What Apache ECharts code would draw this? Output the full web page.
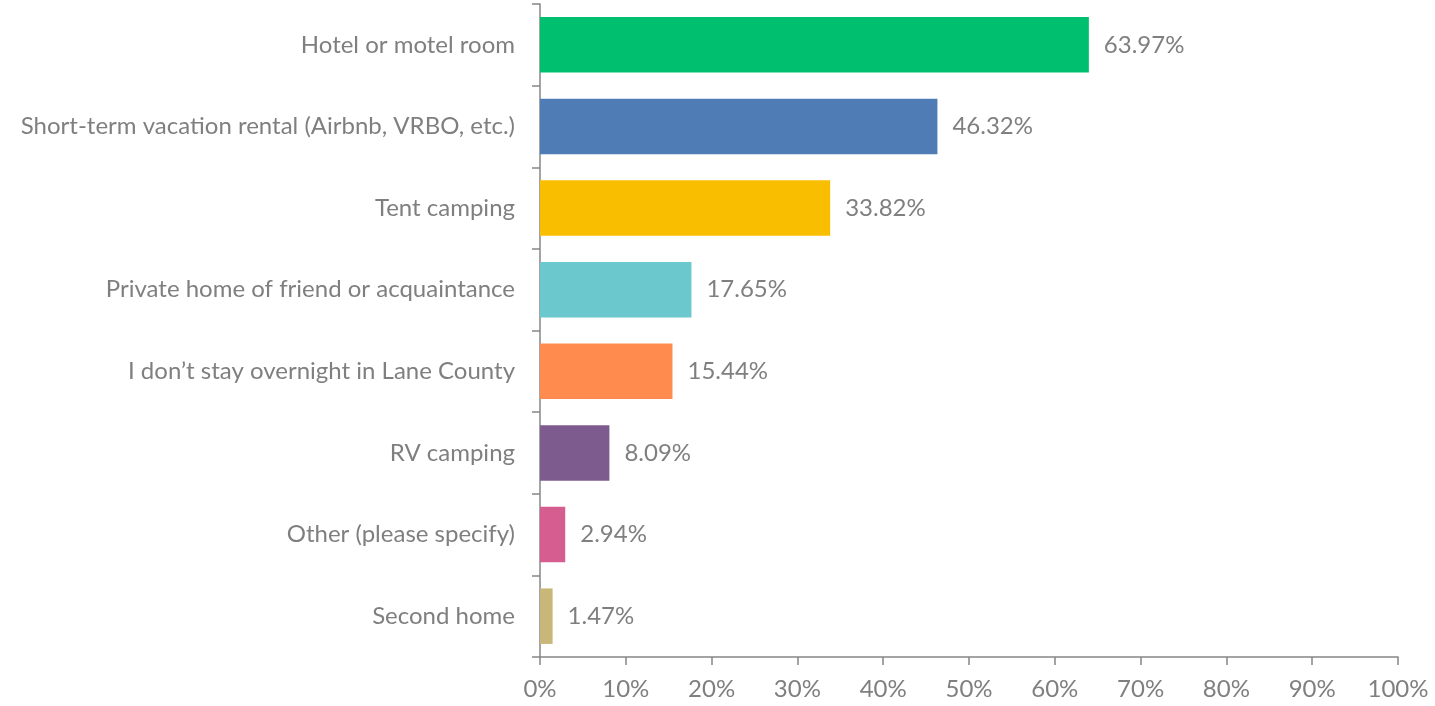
<!DOCTYPE html>
<html>
<head>
<meta charset="utf-8">
<script src="https://cdn.jsdelivr.net/npm/echarts@6/dist/echarts.min.js"></script>
<style>
	html, body { margin: 0; padding: 0; background: #fff; }
	#EBar { width: 1435px; height: 706px; }
</style>
</head>
<body>
<div id="EBar"></div>
<script>
var categories = [
	'Hotel or motel room',
	'Short-term vacation rental (Airbnb, VRBO, etc.)',
	'Tent camping',
	'Private home of friend or acquaintance',
	'I don\u2019t stay overnight in Lane County',
	'RV camping',
	'Other (please specify)',
	'Second home'
];
var values = [63.97, 46.32, 33.82, 17.65, 15.44, 8.09, 2.94, 1.47];
var colors = ['#00bf6f', '#507cb6', '#f9be00', '#6bc8cd', '#ff8b4f', '#7d5b8e', '#d65d90', '#c9b77a'];

(function () {
	var BarECharts = echarts.init(document.getElementById('EBar'));
	var font = 'Lato, "Open Sans", sans-serif';

	var option = {
		animation: false,
		grid: {
			left: 540,
			right: 37,
			top: 4,
			bottom: 49
		},
		xAxis: {
			type: 'value',
			min: 0,
			max: 100,
			interval: 10,
			axisLine: { show: true, lineStyle: { color: '#868686', width: 1.5 } },
			axisTick: { show: true, length: 8, lineStyle: { color: '#868686', width: 1.5 } },
			splitLine: { show: false },
			axisLabel: {
				formatter: '{value}%',
				color: '#7f7f7f',
				fontSize: 24,
				fontFamily: font,
				margin: 20
			}
		},
		yAxis: {
			type: 'category',
			inverse: true,
			data: categories,
			axisLine: { show: true, lineStyle: { color: '#868686', width: 1.5 } },
			axisTick: { show: true, length: 8, lineStyle: { color: '#868686', width: 1.5 } },
			axisLabel: {
				color: '#7f7f7f',
				fontSize: 24,
				fontFamily: font,
				margin: 25
			}
		},
		series: [{
			type: 'bar',
			barCategoryGap: '32%',
			data: values.map(function (v, i) {
				return { value: v, itemStyle: { color: colors[i] } };
			}),
			label: {
				show: true,
				position: 'right',
				distance: 15,
				formatter: function (p) { return p.value.toFixed(2) + '%'; },
				color: '#7f7f7f',
				fontSize: 24,
				fontFamily: font
			}
		}]
	};

	BarECharts.setOption(option);
	window.onresize = function () {
		BarECharts.resize();
	};
})();
</script>
</body>
</html>
